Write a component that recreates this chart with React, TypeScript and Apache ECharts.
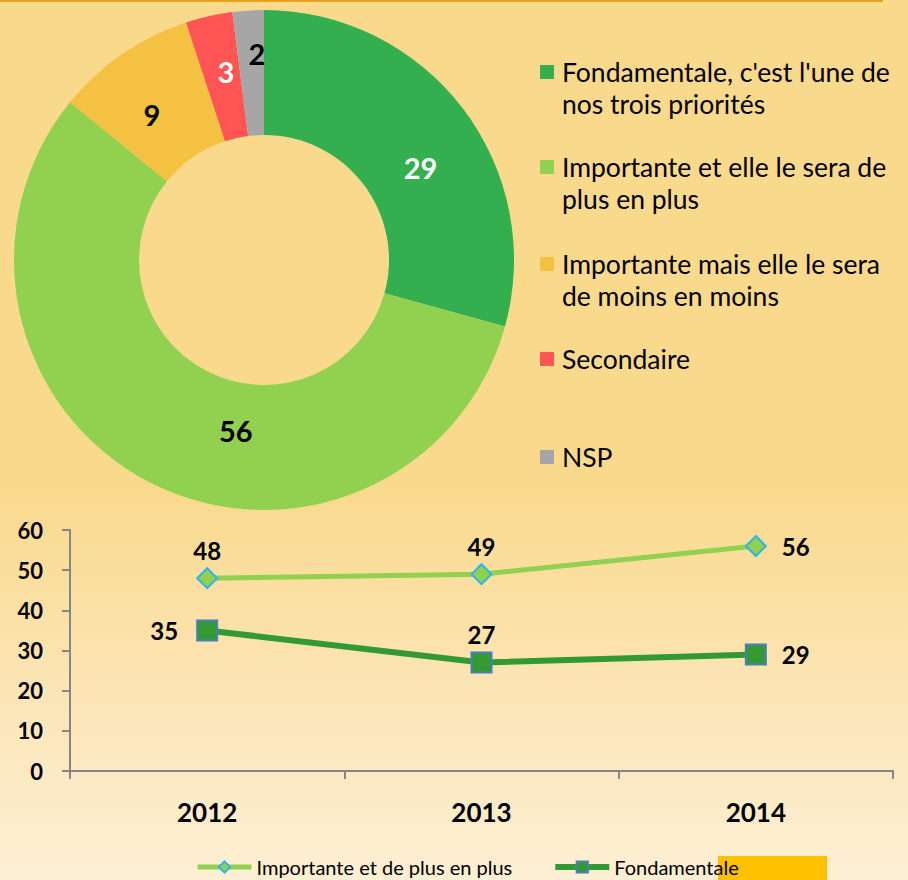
import React, { useEffect, useRef } from "react";
import * as echarts from "echarts";

const FONT = "Lato, 'Noto Sans', sans-serif";

// Donut data
const pieCategories = [
  "Fondamentale, c'est l'une de\nnos trois priorités",
  "Importante et elle le sera de\nplus en plus",
  "Importante mais elle le sera\nde moins en moins",
  "Secondaire",
  "NSP",
];
const pieValues = [29, 56, 9, 3, 2];
const pieColors = ["#34AF50", "#92D050", "#F4C142", "#FF5555", "#A6A6A6"];
const pieLabelColors = ["#FFFFFF", "#000000", "#000000", "#FFFFFF", "#000000"];
const pieLabelOffsets = [
  [5, 23],
  [59, 1],
  [-4, 11],
  [4, -3],
  [5, -16],
];
const pieLegendTops = [72, 167, 264, 359, 457];

// Line data
const years = ["2012", "2013", "2014"];
const importanteName = "Importante et de plus en plus";
const fondamentaleName = "Fondamentale";
const importanteValues = [48, 49, 56];
const fondamentaleValues = [35, 27, 29];
const importanteLabelPos = ["top", "top", "right"];
const fondamentaleLabelPos = ["left", "top", "right"];
const labelDistances: Record<string, number> = { top: 5, right: 15, left: 18 };

export default function App() {
  const ref = useRef<HTMLDivElement>(null);

  useEffect(() => {
    document.body.style.margin = "0";
    if (!ref.current) return;
    const chart = echarts.init(ref.current, undefined, { renderer: "svg" });

    const legendGraphics: any[] = [];
    pieCategories.forEach((name, i) => {
      legendGraphics.push({
        type: "rect",
        shape: { x: 540, y: pieLegendTops[i] - 7, width: 14, height: 14 },
        style: { fill: pieColors[i] },
        silent: true,
      });
      legendGraphics.push({
        type: "text",
        x: 562,
        y: pieLegendTops[i] - 16,
        style: {
          text: name,
          font: `26.5px ${FONT}`,
          fill: "#000",
          lineHeight: 32,
          verticalAlign: "top",
        },
        silent: true,
      });
    });

    const option: any = {
      animation: false,
      backgroundColor: "transparent",
      textStyle: { fontFamily: FONT },
      graphic: [
        {
          type: "rect",
          shape: { x: 0, y: 0, width: 883, height: 2 },
          style: { fill: "#E5A11A" },
          silent: true,
        },
        {
          type: "rect",
          shape: { x: 718, y: 856, width: 109, height: 24 },
          style: { fill: "#FFC000" },
          silent: true,
          z: 0,
        },
        ...legendGraphics,
      ],
      legend: {
        data: [
          { name: importanteName, lineStyle: { width: 5, color: "#92D050" } },
          { name: fondamentaleName, lineStyle: { width: 6, color: "#339933" } },
        ],
        left: 195,
        top: 857,
        itemWidth: 54,
        itemHeight: 14,
        itemGap: 40,
        padding: 0,
        selectedMode: false,
        textStyle: { fontSize: 20, fontFamily: FONT, color: "#000" },
        z: 5,
      },
      grid: { left: 70, right: 15, top: 530, bottom: 109 },
      xAxis: {
        type: "category",
        data: years,
        boundaryGap: true,
        axisLine: { lineStyle: { color: "#868686", width: 2 } },
        axisTick: { show: true, length: 8, lineStyle: { color: "#868686", width: 2 } },
        axisLabel: {
          fontSize: 26,
          fontWeight: "bold",
          color: "#000",
          margin: 28,
          fontFamily: FONT,
        },
      },
      yAxis: {
        type: "value",
        min: 0,
        max: 60,
        interval: 10,
        splitLine: { show: false },
        axisLine: { show: true, lineStyle: { color: "#868686", width: 2 } },
        axisTick: { show: true, length: 8, lineStyle: { color: "#868686", width: 2 } },
        axisLabel: {
          fontSize: 22,
          fontWeight: "bold",
          color: "#000",
          margin: 27,
          fontFamily: FONT,
        },
      },
      series: [
        {
          type: "pie",
          silent: true,
          center: [264, 260],
          radius: [125, 250],
          startAngle: 90,
          clockwise: true,
          avoidLabelOverlap: false,
          data: pieCategories.map((name, i) => ({
            name,
            value: pieValues[i],
            itemStyle: { color: pieColors[i] },
            label: { color: pieLabelColors[i] },
          })),
          label: {
            show: true,
            position: "inside",
            formatter: "{c}",
            fontSize: 29,
            fontWeight: "bold",
            fontFamily: FONT,
          },
          labelLine: { show: false },
          labelLayout: (p: any) => ({
            dx: pieLabelOffsets[p.dataIndex][0],
            dy: pieLabelOffsets[p.dataIndex][1],
          }),
        },
        {
          type: "line",
          name: importanteName,
          data: importanteValues.map((v, i) => ({
            value: v,
            label: {
              position: importanteLabelPos[i],
              distance: labelDistances[importanteLabelPos[i]],
            },
          })),
          symbol: "diamond",
          symbolSize: 20,
          lineStyle: { color: "#92D050", width: 5 },
          itemStyle: { color: "#92D050", borderColor: "#2FB5EC", borderWidth: 2 },
          label: {
            show: true,
            fontSize: 24,
            fontWeight: "bold",
            color: "#000",
            fontFamily: FONT,
          },
        },
        {
          type: "line",
          name: fondamentaleName,
          data: fondamentaleValues.map((v, i) => ({
            value: v,
            label: {
              position: fondamentaleLabelPos[i],
              distance: labelDistances[fondamentaleLabelPos[i]],
            },
          })),
          symbol: "rect",
          symbolSize: 20,
          lineStyle: { color: "#339933", width: 6 },
          itemStyle: { color: "#339933", borderColor: "#4A7EBB", borderWidth: 2 },
          label: {
            show: true,
            fontSize: 24,
            fontWeight: "bold",
            color: "#000",
            fontFamily: FONT,
          },
        },
      ],
    };

    chart.setOption(option);
    return () => chart.dispose();
  }, []);

  return (
    <div
      ref={ref}
      style={{
        width: 908,
        height: 880,
        background:
          "linear-gradient(to bottom, #F9D98B 0%, #F9D98C 55%, #FCE6B8 80%, #FDEFD4 100%)",
      }}
    />
  );
}
